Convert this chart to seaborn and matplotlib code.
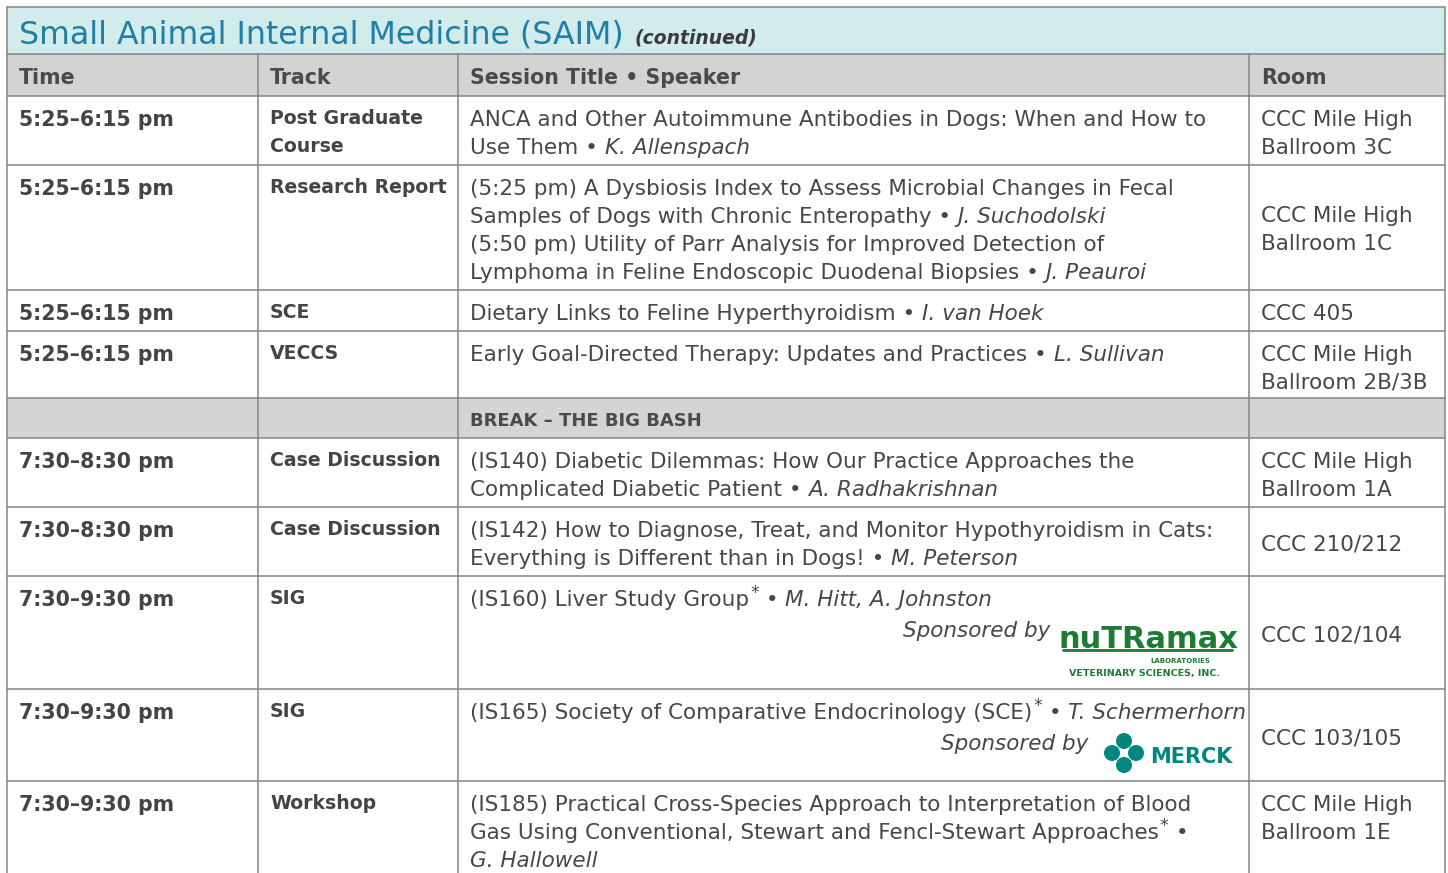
import matplotlib
matplotlib.use("Agg")
import matplotlib.pyplot as plt
import matplotlib.patches as mpatches
import seaborn as sns

# ---- table content ----
title = "Small Animal Internal Medicine (SAIM)"
title_note = "(continued)"
headers = ["Time", "Track", "Session Title • Speaker", "Room"]

times = ["5:25–6:15 pm", "5:25–6:15 pm", "5:25–6:15 pm", "5:25–6:15 pm", "",
         "7:30–8:30 pm", "7:30–8:30 pm", "7:30–9:30 pm", "7:30–9:30 pm", "7:30–9:30 pm"]
tracks = [["Post Graduate", "Course"], ["Research Report"], ["SCE"], ["VECCS"], [],
          ["Case Discussion"], ["Case Discussion"], ["SIG"], ["SIG"], ["Workshop"]]
# {..} = italic, ^ = superscript asterisk
sessions = [
    ["ANCA and Other Autoimmune Antibodies in Dogs: When and How to",
     "Use Them • {K. Allenspach}"],
    ["(5:25 pm) A Dysbiosis Index to Assess Microbial Changes in Fecal",
     "Samples of Dogs with Chronic Enteropathy • {J. Suchodolski}",
     "(5:50 pm) Utility of Parr Analysis for Improved Detection of",
     "Lymphoma in Feline Endoscopic Duodenal Biopsies • {J. Peauroi}"],
    ["Dietary Links to Feline Hyperthyroidism • {I. van Hoek}"],
    ["Early Goal-Directed Therapy: Updates and Practices • {L. Sullivan}"],
    ["BREAK – THE BIG BASH"],
    ["(IS140) Diabetic Dilemmas: How Our Practice Approaches the",
     "Complicated Diabetic Patient • {A. Radhakrishnan}"],
    ["(IS142) How to Diagnose, Treat, and Monitor Hypothyroidism in Cats:",
     "Everything is Different than in Dogs! • {M. Peterson}"],
    ["(IS160) Liver Study Group^ • {M. Hitt, A. Johnston}"],
    ["(IS165) Society of Comparative Endocrinology (SCE)^ • {T. Schermerhorn}"],
    ["(IS185) Practical Cross-Species Approach to Interpretation of Blood",
     "Gas Using Conventional, Stewart and Fencl-Stewart Approaches^ •",
     "{G. Hallowell}"],
]
sponsors = [None, None, None, None, None, None, None, "nutramax", "merck", None]
rooms = [["CCC Mile High", "Ballroom 3C"], ["CCC Mile High", "Ballroom 1C"], ["CCC 405"],
         ["CCC Mile High", "Ballroom 2B/3B"], [], ["CCC Mile High", "Ballroom 1A"],
         ["CCC 210/212"], ["CCC 102/104"], ["CCC 103/105"], ["CCC Mile High", "Ballroom 1E"]]
room_centered = [False, True, False, False, False, False, True, True, True, False]
is_break = [False, False, False, False, True, False, False, False, False, False]

# ---- layout (pixels) ----
W, H = 1448, 873
col_edges = [7, 258, 458, 1249, 1445]
title_top, header_top, body_top = 7, 54, 96
row_heights = [69, 125, 41, 67, 40, 69, 69, 113, 92, 110]
pad = 12
line_gap = 28
BODY = 15.5

TXT = "#474747"
BLUE = "#1f7fa6"
LINE = "#858585"
FONT = "DejaVu Sans"

sns.set_theme(style="white")
plt.rcParams["font.family"] = [FONT]

fig = plt.figure(figsize=(W / 100, H / 100), dpi=100)
ax = fig.add_axes([0, 0, 1, 1])
ax.set_xlim(0, W)
ax.set_ylim(H, 0)
ax.axis("off")
renderer = fig.canvas.get_renderer()


def parse(line):
    segs, cur, style = [], "", "n"
    for ch in line:
        if ch in "{}^":
            if cur:
                segs.append((cur, style))
            cur = ""
            if ch == "{":
                style = "i"
            elif ch == "}":
                style = "n"
            else:
                segs.append(("*", "sup"))
        else:
            cur += ch
    if cur:
        segs.append((cur, style))
    return segs


def draw_line(x, y, line, size, color=TXT, weight="normal", align="left"):
    segs = parse(line)
    arts = []
    cx = x
    for txt, st in segs:
        if st == "sup":
            t = ax.text(cx + 1, y - 8, txt, fontsize=size * 0.8, color=color,
                        va="baseline", ha="left")
        else:
            t = ax.text(cx, y, txt, fontsize=size, color=color, weight=weight,
                        style="italic" if st == "i" else "normal",
                        va="baseline", ha="left")
        bb = t.get_window_extent(renderer)
        cx += bb.width + (1 if st == "sup" else 0)
        arts.append(t)
    if align == "right":
        shift = cx - x
        for t in arts:
            px, py = t.get_position()
            t.set_position((px - shift, py))
    return cx - x


# title band and header
ax.add_patch(mpatches.Rectangle((col_edges[0], title_top), col_edges[-1] - col_edges[0],
                                header_top - title_top, facecolor="#d2ebeb", edgecolor="none"))
ax.add_patch(mpatches.Rectangle((col_edges[0], header_top), col_edges[-1] - col_edges[0],
                                body_top - header_top, facecolor="#d4d3d3", edgecolor="none"))
w = draw_line(col_edges[0] + pad, title_top + 36, title, 22.8, color=BLUE)
ax.text(col_edges[0] + pad + w + 11, title_top + 36, title_note, fontsize=13.5,
        style="italic", weight="bold", color="#3a3a3a", va="baseline")
for c, h in enumerate(headers):
    draw_line(col_edges[c] + pad, header_top + 30, h, 14.8, weight="bold", color="#4a4a4a")

# body rows
top = body_top
row_tops = []
for r, rh in enumerate(row_heights):
    row_tops.append(top)
    if is_break[r]:
        ax.add_patch(mpatches.Rectangle((col_edges[0], top), col_edges[-1] - col_edges[0], rh,
                                        facecolor="#d5d3d3", edgecolor="none"))
        draw_line(col_edges[2] + pad, top + 28, sessions[r][0], 13, weight="bold", color="#4a4a4a")
        top += rh
        continue
    base = top + 30
    draw_line(col_edges[0] + pad, base, times[r], 14.8, weight="bold", color="#444444")
    for i, tl in enumerate(tracks[r]):
        draw_line(col_edges[1] + pad, top + 28 + i * line_gap, tl, 13.6, weight="bold", color="#444444")
    for i, sl in enumerate(sessions[r]):
        draw_line(col_edges[2] + pad, base + i * line_gap, sl, BODY)
    n = len(rooms[r])
    if room_centered[r]:
        rb = top + rh / 2 - (n - 1) * line_gap / 2 + 9
    else:
        rb = base
    for i, rl in enumerate(rooms[r]):
        draw_line(col_edges[3] + pad, rb + i * line_gap, rl, BODY)
    top += rh

# sponsor lines and logos
GREEN = "#1e7b36"
r = sponsors.index("nutramax")
t0 = row_tops[r]
draw_line(1050, t0 + 61, "{Sponsored by}", BODY, align="right")
ax.text(1148, t0 + 72, "nuTRamax", fontsize=22, weight="bold", color=GREEN,
        va="baseline", ha="center")
ax.plot([1063, 1232], [t0 + 74, t0 + 74], color=GREEN, lw=2)
ax.text(1180, t0 + 87, "LABORATORIES", fontsize=5, weight="bold", color=GREEN,
        va="baseline", ha="center")
ax.text(1145, t0 + 100, "VETERINARY SCIENCES, INC.", fontsize=6.8, weight="bold", color=GREEN,
        va="baseline", ha="center")

r = sponsors.index("merck")
t0 = row_tops[r]
draw_line(1088, t0 + 61, "{Sponsored by}", BODY, align="right")
MERCK = "#00877d"
cx, cy = 1124, t0 + 64
for dx, dy in [(-12, 0), (12, 0), (0, -12), (0, 12)]:
    ax.add_patch(mpatches.Circle((cx + dx, cy + dy), 8, facecolor=MERCK, edgecolor="none"))
ax.add_patch(mpatches.Circle((cx, cy), 4, facecolor="white", edgecolor="none"))
ax.text(1150, cy + 10, "MERCK", fontsize=15, weight="bold", color=MERCK, va="baseline", ha="left")

# grid lines
bottom = H
ys = [title_top, header_top, body_top] + [t + h for t, h in zip(row_tops, row_heights)]
for y in ys:
    if y <= H:
        ax.plot([col_edges[0], col_edges[-1]], [y, y], color=LINE, lw=1.1)
for x in [col_edges[0], col_edges[-1]]:
    ax.plot([x, x], [title_top, bottom], color=LINE, lw=1.1)
for x in col_edges[1:-1]:
    ax.plot([x, x], [header_top, bottom], color=LINE, lw=1.1)

fig.savefig("out.png", dpi=100)
